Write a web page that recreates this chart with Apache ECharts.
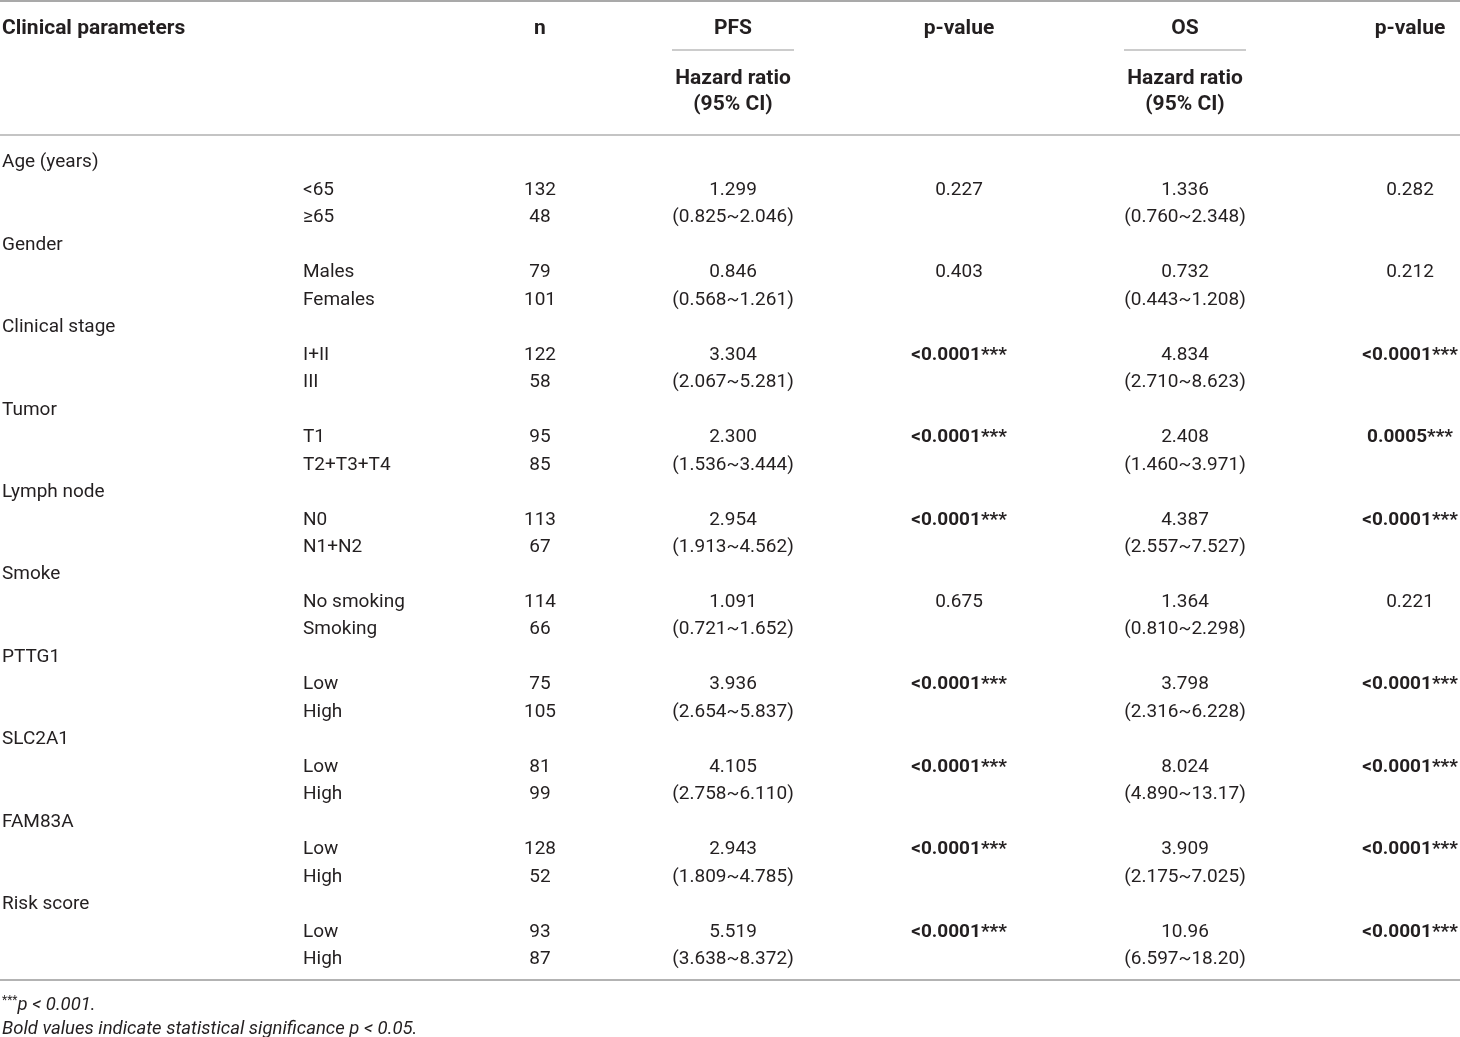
<!DOCTYPE html>
<html>
<head>
<meta charset="utf-8">
<title>Cox regression table</title>
<script src="https://cdn.jsdelivr.net/npm/echarts@6/dist/echarts.min.js"></script>
<style>
html, body { margin: 0; padding: 0; background: #fff; }
#main { width: 1460px; height: 1037px; }
</style>
</head>
<body>
<div id="main"></div>
<script>
// table data
var params = ['Age (years)', 'Gender', 'Clinical stage', 'Tumor', 'Lymph node',
	'Smoke', 'PTTG1', 'SLC2A1', 'FAM83A', 'Risk score'];
var subgroups = [['<65', '\u226565'], ['Males', 'Females'], ['I+II', 'III'], ['T1', 'T2+T3+T4'],
	['N0', 'N1+N2'], ['No smoking', 'Smoking'], ['Low', 'High'], ['Low', 'High'],
	['Low', 'High'], ['Low', 'High']];
var counts = [[132, 48], [79, 101], [122, 58], [95, 85], [113, 67], [114, 66],
	[75, 105], [81, 99], [128, 52], [93, 87]];
var pfsHR = ['1.299', '0.846', '3.304', '2.300', '2.954', '1.091', '3.936', '4.105', '2.943', '5.519'];
var pfsCI = ['0.825~2.046', '0.568~1.261', '2.067~5.281', '1.536~3.444', '1.913~4.562',
	'0.721~1.652', '2.654~5.837', '2.758~6.110', '1.809~4.785', '3.638~8.372'];
var pfsP = ['0.227', '0.403', '<0.0001***', '<0.0001***', '<0.0001***', '0.675',
	'<0.0001***', '<0.0001***', '<0.0001***', '<0.0001***'];
var osHR = ['1.336', '0.732', '4.834', '2.408', '4.387', '1.364', '3.798', '8.024', '3.909', '10.96'];
var osCI = ['0.760~2.348', '0.443~1.208', '2.710~8.623', '1.460~3.971', '2.557~7.527',
	'0.810~2.298', '2.316~6.228', '4.890~13.17', '2.175~7.025', '6.597~18.20'];
var osP = ['0.282', '0.212', '<0.0001***', '0.0005***', '<0.0001***', '0.221',
	'<0.0001***', '<0.0001***', '<0.0001***', '<0.0001***'];

// column anchors (x in px of the 1460 wide table)
var COL = { param: 2, sub: 303, n: 540, pfs: 733, pfsP: 959, os: 1185, osP: 1410 };
var FONT = 'Roboto, "Liberation Sans", sans-serif';
var INK = '#231f20';

function significant(p) {
	return parseFloat(p.replace('<', '').replace(/\*/g, '')) < 0.05;
}

// build cells
var rowNames = [];
var cells = [];
params.forEach(function (name, i) {
	var r = i * 3;
	rowNames.push(name, name + ' 1', name + ' 2');
	cells.push({ x: COL.param, row: r, text: name, align: 'left' });
	for (var k = 0; k < 2; k++) {
		cells.push({ x: COL.sub, row: r + 1 + k, text: subgroups[i][k], align: 'left' });
		cells.push({ x: COL.n, row: r + 1 + k, text: String(counts[i][k]), align: 'center' });
	}
	cells.push({ x: COL.pfs, row: r + 1, text: pfsHR[i], align: 'center' });
	cells.push({ x: COL.pfs, row: r + 2, text: '(' + pfsCI[i] + ')', align: 'center' });
	cells.push({ x: COL.pfsP, row: r + 1, text: pfsP[i], align: 'center', bold: significant(pfsP[i]) });
	cells.push({ x: COL.os, row: r + 1, text: osHR[i], align: 'center' });
	cells.push({ x: COL.os, row: r + 2, text: '(' + osCI[i] + ')', align: 'center' });
	cells.push({ x: COL.osP, row: r + 1, text: osP[i], align: 'center', bold: significant(osP[i]) });
});

function headText(x, y, text, align) {
	return {
		type: 'text', x: x, y: y,
		style: { text: text, align: align || 'center', verticalAlign: 'middle',
			fill: INK, fontSize: 21, fontWeight: 'bold', fontFamily: FONT }
	};
}
function hLine(x1, x2, y, w, c) {
	return { type: 'line', shape: { x1: x1, y1: y, x2: x2, y2: y },
		style: { stroke: c || '#9a9a9a', lineWidth: w || 1.5 } };
}

var chart = echarts.init(document.getElementById('main'));
chart.setOption({
	animation: false,
	grid: { left: 0, right: 0, top: 149, height: 824 },
	xAxis: { type: 'value', min: 0, max: 1460, show: false },
	yAxis: { type: 'category', data: rowNames, inverse: true, show: false },
	graphic: [
		hLine(0, 1460, 1, 1.5, '#8c8c8c'),
		hLine(672, 794, 50, 1.2, '#9a9a9a'),
		hLine(1124, 1246, 50, 1.2, '#9a9a9a'),
		hLine(0, 1460, 135, 1.5, '#b0b0b0'),
		hLine(0, 1460, 980, 1.5, '#9a9a9a'),
		headText(COL.param, 29, 'Clinical parameters', 'left'),
		headText(COL.n, 29, 'n'),
		headText(COL.pfs, 29, 'PFS'),
		headText(COL.pfsP, 29, 'p-value'),
		headText(COL.os, 29, 'OS'),
		headText(COL.osP, 29, 'p-value'),
		headText(COL.pfs, 79, 'Hazard ratio'),
		headText(COL.pfs, 105, '(95% CI)'),
		headText(COL.os, 79, 'Hazard ratio'),
		headText(COL.os, 105, '(95% CI)'),
		{
			type: 'text', x: 2, y: 1005,
			style: {
				text: '{s|***}{i|p < 0.001.}', verticalAlign: 'middle', fill: INK,
				rich: {
					s: { fontSize: 12, fontFamily: FONT, fill: INK, verticalAlign: 'top', padding: [0, 0, 8, 0] },
					i: { fontSize: 18.5, fontStyle: 'italic', fontFamily: FONT, fill: INK }
				}
			}
		},
		{
			type: 'text', x: 2, y: 1029,
			style: { text: 'Bold values indicate statistical significance p < 0.05.',
				verticalAlign: 'middle', fill: INK, fontSize: 18.5, fontStyle: 'italic', fontFamily: FONT }
		}
	],
	series: [{
		type: 'custom',
		coordinateSystem: 'cartesian2d',
		encode: { x: 0, y: 1 },
		data: cells.map(function (c) { return [c.x, c.row]; }),
		renderItem: function (p, api) {
			var c = cells[p.dataIndex];
			var pt = api.coord([api.value(0), api.value(1)]);
			return {
				type: 'text', x: pt[0], y: pt[1],
				style: {
					text: c.text, align: c.align, verticalAlign: 'middle', fill: INK,
					fontSize: 19, fontFamily: FONT, fontWeight: c.bold ? 'bold' : 'normal'
				}
			};
		}
	}]
});
</script>
</body>
</html>
